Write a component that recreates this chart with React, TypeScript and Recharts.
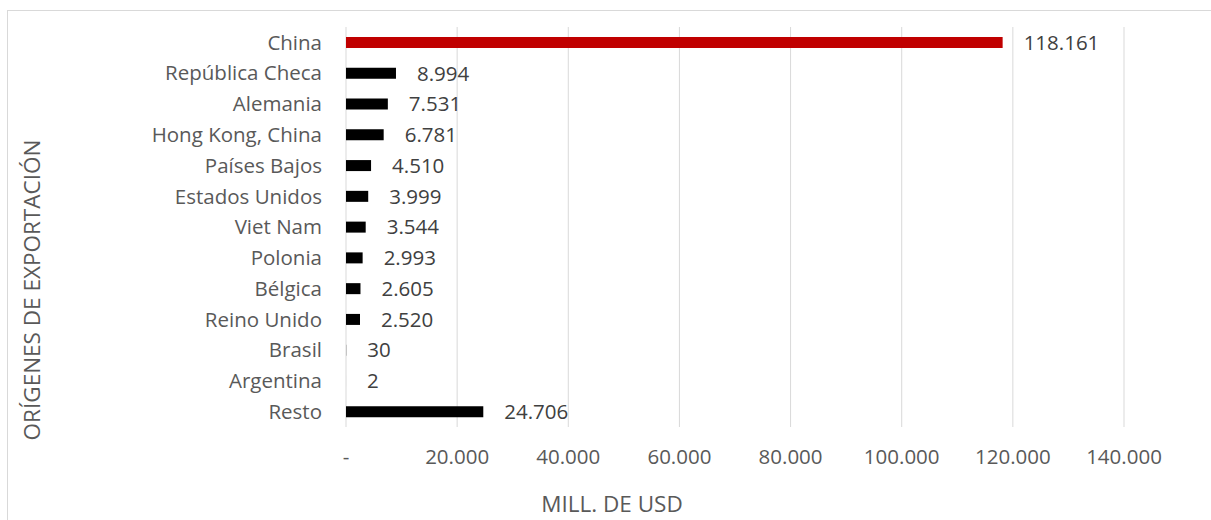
import { BarChart, Bar, XAxis, YAxis, CartesianGrid, Cell, LabelList, Label } from 'recharts';

const countries = [
  'China',
  'República Checa',
  'Alemania',
  'Hong Kong, China',
  'Países Bajos',
  'Estados Unidos',
  'Viet Nam',
  'Polonia',
  'Bélgica',
  'Reino Unido',
  'Brasil',
  'Argentina',
  'Resto',
];
const exportsUsd = [118161, 8994, 7531, 6781, 4510, 3999, 3544, 2993, 2605, 2520, 30, 2, 24706];
const xTicks = [0, 20000, 40000, 60000, 80000, 100000, 120000, 140000];
const highlighted = 'China';

const data = countries.map((name, i) => ({ name, value: exportsUsd[i] }));

const FONT = '"Open Sans", sans-serif';
const FS = 20.5;
const TITLE_FS = 22.5;

function fmt(n: number) {
  if (n === 0) return '-';
  return String(n).replace(/\B(?=(\d{3})+(?!\d))/g, '.');
}

function YTitle() {
  return (
    <text
      x={31}
      y={290}
      transform="rotate(-90, 31, 290)"
      textAnchor="middle"
      dominantBaseline="central"
      fill="#595959"
      fontFamily={FONT}
      fontSize={TITLE_FS}
    >
      ORÍGENES DE EXPORTACIÓN
    </text>
  );
}

export default function App() {
  return (
    <div style={{ position: 'fixed', left: 0, top: 0, width: 1211, height: 520, overflow: 'hidden', background: '#fff' }}>
      <div
        style={{
          position: 'absolute',
          left: 7,
          top: 10,
          width: 1240,
          height: 560,
          border: '1px solid #d9d9d9',
        }}
      />
      <div style={{ position: 'absolute', left: 0, top: 0 }}>
        <BarChart
          width={1211}
          height={520}
          data={data}
          layout="vertical"
          margin={{ top: 27, right: 87, left: 0, bottom: 33 }}
        >
          <CartesianGrid horizontal={false} stroke="#d9d9d9" strokeWidth={1} />
          <XAxis
            type="number"
            domain={[0, 140000]}
            ticks={xTicks}
            tickFormatter={fmt}
            axisLine={false}
            tickLine={false}
            tickMargin={16}
            height={60}
            tick={{ fill: '#595959', fontSize: FS, fontFamily: FONT }}
          >
            <Label
              value="MILL. DE USD"
              position="bottom"
              offset={9}
              dx={-123}
              fill="#595959"
              fontSize={TITLE_FS}
              fontFamily={FONT}
            />
          </XAxis>
          <YAxis
            type="category"
            dataKey="name"
            width={346}
            axisLine={false}
            tickLine={false}
            tickMargin={18}
            interval={0}
            tick={{ fill: '#595959', fontSize: FS, fontFamily: FONT }}
          >
            <Label content={<YTitle />} />
          </YAxis>
          <Bar dataKey="value" barSize={11} isAnimationActive={false}>
            {data.map((d) => (
              <Cell key={d.name} fill={d.name === highlighted ? '#c00000' : '#000000'} />
            ))}
            <LabelList
              dataKey="value"
              position="right"
              offset={21}
              formatter={(v: any) => fmt(Number(v))}
              fill="#404040"
              fontSize={FS}
              fontFamily={FONT}
            />
          </Bar>
        </BarChart>
      </div>
    </div>
  );
}
